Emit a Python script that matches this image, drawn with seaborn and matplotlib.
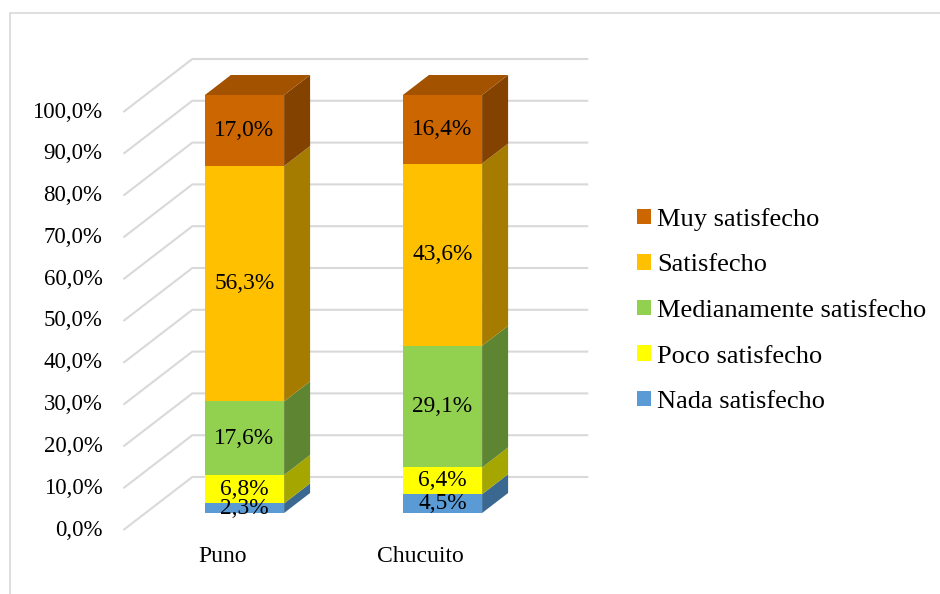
import numpy as np
import pandas as pd
import matplotlib.pyplot as plt
from matplotlib.patches import Polygon, Patch, Rectangle
import seaborn as sns

# --------------------------
# Data
# --------------------------
regions = ["Puno", "Chucuito"]
levels = ["Nada satisfecho", "Poco satisfecho", "Medianamente satisfecho",
          "Satisfecho", "Muy satisfecho"]
puno = [2.3, 6.8, 17.6, 56.3, 17.0]
chucuito = [4.5, 6.4, 29.1, 43.6, 16.4]
y_ticks = np.arange(0, 101, 10)

front_colors = ["#5B9BD5", "#FFFF00", "#92D050", "#FFC000", "#CC6600"]
side_colors = ["#3B6890", "#A6A600", "#5E8532", "#A67C00", "#844200"]
top_color = "#A35200"
grid_color = "#D9D9D9"

sns.set_theme(style="white")
plt.rcParams["font.family"] = ["Liberation Serif", "DejaVu Serif"]
plt.rcParams["text.color"] = "black"
FS_TICK = 16.5
FS_DATA = 16.8
FS_CAT = 17
FS_LEG = 19

# --------------------------
# Figure / axes laid out in pixels so the oblique 3D look lines up
# --------------------------
W, H = 940, 594
fig = plt.figure(figsize=(W / 100, H / 100), dpi=100)
px_left, px_right, px_top, px_bottom = 100, 620, 40, 585
ax = fig.add_axes([px_left / W, 1 - px_bottom / H,
                   (px_right - px_left) / W, (px_bottom - px_top) / H])
x0_px, x_scale = 244.5, 198.0   # centre of first category, px per category
y0_px, y_scale = 513.0, 4.18    # 0 % level, px per percent

DX = 26 / x_scale   # depth step in data units (x)
DY = 20 / y_scale   # depth step in data units (y)
D_FRONT, D_BACK = -0.85, 1.8   # floor front edge / back wall depth
BAR_W = 0.4


def proj(x, y, d):
    return x + d * DX, y + d * DY


# --------------------------
# Front faces via seaborn (tallest first so they stack)
# --------------------------
values = pd.DataFrame({"Puno": puno, "Chucuito": chucuito}, index=levels)
cum = values.cumsum()
for k in reversed(range(len(levels))):
    sns.barplot(x=regions, y=cum.iloc[k].values, color=front_colors[k],
                width=BAR_W, saturation=1, linewidth=0, ax=ax, zorder=3)

# --------------------------
# Walls / gridlines
# --------------------------
x_min, x_max = -0.5, 1.5
for v in y_ticks:
    a = proj(x_min, v, D_FRONT)
    b = proj(x_min, v, D_BACK)
    c = proj(x_max, v, D_BACK)
    ax.plot([a[0], b[0], c[0]], [a[1], b[1], c[1]], color=grid_color,
            lw=1.5, zorder=1, solid_capstyle="butt")
    ax.text(a[0] - 0.105, a[1], f"{v:.1f}%".replace(".", ","),
            ha="right", va="center", fontsize=FS_TICK, color="black")

# --------------------------
# Side and top faces + labels
# --------------------------
for i, reg in enumerate(regions):
    segs = values[reg].values
    bottoms = np.concatenate([[0], np.cumsum(segs)[:-1]])
    xr = i + BAR_W / 2
    xl = i - BAR_W / 2
    for k, (b, s) in enumerate(zip(bottoms, segs)):
        t = b + s
        side = [proj(xr, b, 0), proj(xr, b, 1), proj(xr, t, 1), proj(xr, t, 0)]
        ax.add_patch(Polygon(side, closed=True, facecolor=side_colors[k],
                             edgecolor="none", zorder=3))
        ax.text(i, b + s / 2, f"{s:.1f}%".replace(".", ","), ha="center",
                va="center", fontsize=FS_DATA, color="black", zorder=5)
    top = bottoms[-1] + segs[-1]
    ax.add_patch(Polygon([proj(xl, top, 0), proj(xr, top, 0),
                          proj(xr, top, 1), proj(xl, top, 1)], closed=True,
                         facecolor=top_color, edgecolor="none", zorder=3))
    lx, _ = proj(i, 0, D_FRONT)
    ax.text(lx, (y0_px - 557) / y_scale, reg, ha="center", va="center",
            fontsize=FS_CAT, color="black")

ax.set_xlim((px_left - x0_px) / x_scale, (px_right - x0_px) / x_scale)
ax.set_ylim((y0_px - px_bottom) / y_scale, (y0_px - px_top) / y_scale)
ax.axis("off")

# --------------------------
# Legend
# --------------------------
handles = [Patch(facecolor=front_colors[k], edgecolor="none", label=levels[k])
           for k in reversed(range(len(levels)))]
fig.legend(handles=handles, loc="center left",
           bbox_to_anchor=(637 / W, 1 - 310.5 / H), bbox_transform=fig.transFigure,
           frameon=False, fontsize=FS_LEG, handlelength=0.52, handleheight=0.52,
           handletextpad=0.23, labelspacing=0.89, borderpad=0, borderaxespad=0,
           labelcolor="black")

# chart area border (left and top visible)
fig.add_artist(Rectangle((10 / W, -0.5), 2, 1.5 - 13 / H, transform=fig.transFigure,
                         fill=False, edgecolor=grid_color, lw=1.2))

fig.savefig("out.png", dpi=100, facecolor="white")
